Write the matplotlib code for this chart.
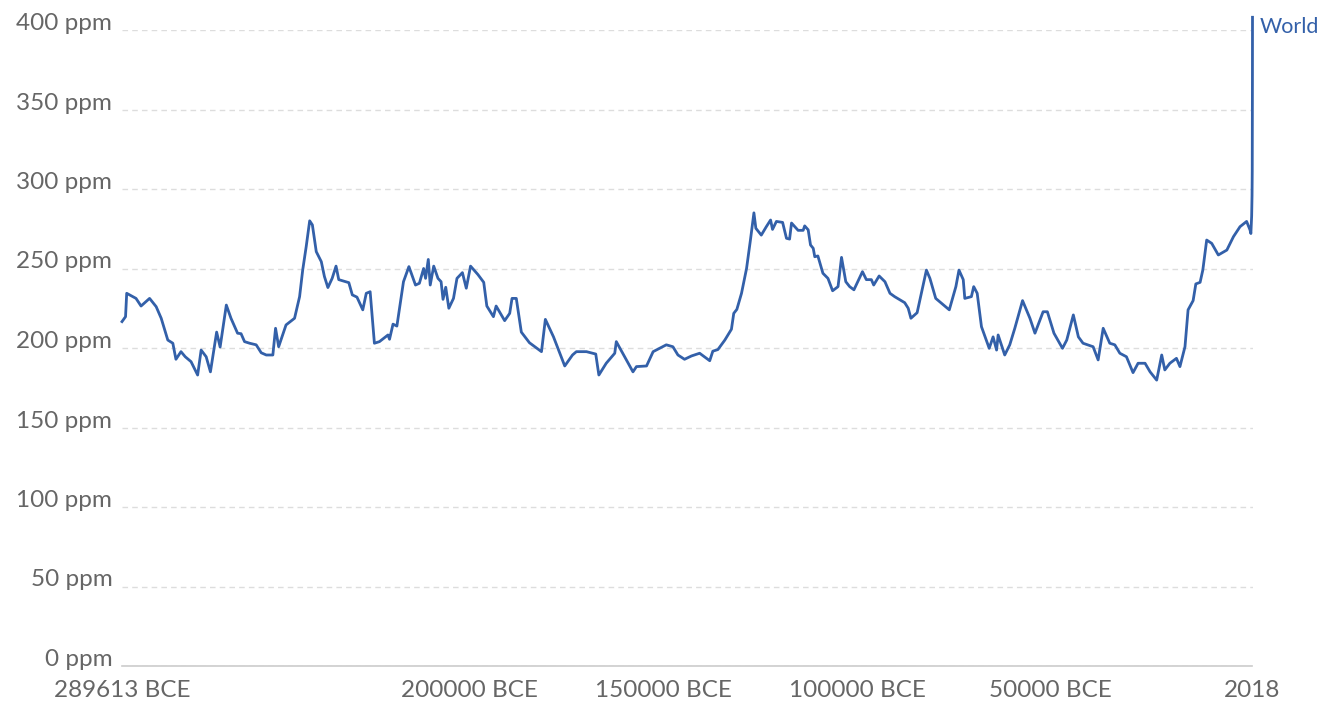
import matplotlib
matplotlib.use("Agg")
import matplotlib.pyplot as plt

plt.rcParams['font.family'] = ['Lato', 'DejaVu Sans']

# year (negative = BCE) and CO2 concentration
years = [
    -289613, -288700, -288400, -286000, -284700, -282500, -280800, -279500, -277800, -276500,
    -275700, -274400, -273300, -271800, -270100, -269200, -267900, -266800, -265200, -264300,
    -262700, -261500, -259800, -258900, -258000, -256700, -255000, -253700, -252400, -250700,
    -250000, -249200, -247300, -245100, -243800, -243000, -242100, -241200, -240500, -239500,
    -238200, -237400, -236500, -235400, -234400, -233700, -231100, -230200, -229000, -227500,
    -226600, -225600, -224500, -223200, -221000, -220600, -219700, -218700, -217000, -215600,
    -213900, -212900, -211800, -211300, -210600, -210100, -209200, -208100, -207300, -206800,
    -206100, -205300, -204100, -203200, -201800, -200800, -199700, -197800, -196300, -195500,
    -193800, -193100, -190900, -189600, -189000, -187900, -186600, -184500, -181400, -180400,
    -178300, -175400, -173400, -172400, -169800, -167400, -166600, -164700, -162500, -162100,
    -157800, -156900, -154300, -152600, -149200, -147500, -146200, -144500, -142700, -140600,
    -138000, -137200, -135900, -134100, -132400, -131800, -131000, -129800, -128500, -127500,
    -126600, -126100, -124700, -123400, -122300, -121800, -120800, -119200, -118200, -117400,
    -116900, -115200, -113900, -113500, -112600, -112000, -111300, -110900, -110100, -108800,
    -107500, -106300, -104900, -104000, -102900, -101900, -100800, -98600, -97600, -96300,
    -95700, -94300, -92800, -91500, -90300, -87700, -86800, -86100, -84500, -82100,
    -81200, -79700, -78200, -76200, -74500, -73700, -72600, -72200, -70500, -69900,
    -69000, -67900, -65900, -64900, -64000, -63600, -61900, -60600, -59300, -57300,
    -56300, -55400, -54100, -53300, -52000, -50900, -49200, -47000, -45900, -44200,
    -42900, -41700, -39100, -37800, -36500, -34800, -33500, -32200, -30500, -28800,
    -27500, -25700, -24400, -22700, -21400, -20600, -19300, -17600, -16700, -15400,
    -14600, -13300, -12600, -11500, -10800, -9800, -8500, -6800, -4600, -2900,
    -1200, 500, 1370, 1600, 1800, 1900, 1950, 1980, 2000, 2018,
]
co2 = [
    216.6, 219.7, 234.4, 231.2, 226.4, 231.2, 226.0, 218.7, 205.0, 203.0,
    192.9, 197.7, 194.5, 191.4, 183.0, 198.7, 194.5, 185.0, 210.0, 200.6,
    227.0, 218.7, 209.3, 209.0, 204.0, 203.0, 202.0, 197.0, 195.6, 195.6,
    212.4, 200.8, 214.5, 218.7, 232.3, 249.0, 263.7, 280.0, 277.4, 260.6,
    254.3, 245.0, 238.0, 243.8, 251.5, 243.0, 241.1, 233.4, 232.0, 224.0,
    234.4, 235.4, 203.0, 204.0, 208.2, 205.5, 215.0, 213.8, 241.7, 251.2,
    239.6, 240.7, 250.0, 243.8, 255.7, 239.6, 251.5, 243.8, 241.7, 230.6,
    238.2, 225.0, 231.2, 243.8, 247.4, 237.6, 251.5, 246.2, 241.3, 226.4,
    219.7, 226.4, 217.2, 221.8, 231.2, 231.2, 210.0, 203.3, 197.7, 218.0,
    207.0, 188.7, 195.6, 197.7, 197.7, 196.2, 183.0, 190.4, 196.7, 204.0,
    185.0, 188.3, 188.7, 197.7, 202.0, 200.8, 195.6, 192.9, 195.0, 196.7,
    192.0, 198.0, 199.0, 205.0, 211.8, 221.8, 224.3, 234.4, 250.0, 267.9,
    285.0, 275.3, 271.0, 276.3, 280.5, 274.6, 279.6, 279.0, 269.0, 268.5,
    278.6, 274.0, 274.0, 276.8, 274.3, 264.8, 262.7, 257.4, 257.9, 247.0,
    243.8, 236.0, 238.6, 257.0, 241.7, 238.6, 236.6, 248.0, 243.0, 243.0,
    239.6, 245.3, 241.7, 234.4, 232.3, 228.5, 225.0, 218.7, 222.2, 249.0,
    243.8, 231.2, 228.1, 224.0, 238.6, 249.0, 243.0, 231.2, 232.3, 238.6,
    234.4, 213.4, 199.8, 207.0, 198.7, 208.2, 195.6, 202.0, 212.4, 229.8,
    224.0, 218.7, 209.3, 214.5, 222.8, 222.8, 209.3, 199.8, 205.0, 220.8,
    207.0, 203.0, 200.8, 192.5, 212.4, 203.0, 202.0, 196.7, 194.5, 184.5,
    190.4, 190.4, 185.0, 179.8, 195.6, 186.2, 190.4, 193.5, 188.3, 200.8,
    224.0, 229.8, 240.3, 241.3, 249.0, 267.9, 265.8, 258.5, 261.6, 270.0,
    276.3, 279.6, 274.3, 272.0, 283.0, 296.0, 311.0, 339.0, 369.0, 408.0,
]

y_ticks = [0, 50, 100, 150, 200, 250, 300, 350, 400]
x_ticks = [-289613, -200000, -150000, -100000, -50000, 2018]
x_labels = ["289613 BCE", "200000 BCE", "150000 BCE", "100000 BCE", "50000 BCE", "2018"]

blue = '#3360a9'
grey = '#666666'

fig = plt.figure(figsize=(13.22, 7.05), dpi=100)
ax = fig.add_axes([122 / 1322, 1 - 666 / 705, (1252.5 - 122) / 1322, 636 / 705])

ax.plot(years, co2, color=blue, lw=2.0, clip_on=False, zorder=3)

ax.set_xlim(years[0], years[-1])
ax.set_ylim(0, 400)

ax.set_yticks(y_ticks)
ax.set_yticklabels([f"{v} ppm" for v in y_ticks])
ax.set_xticks(x_ticks)
ax.set_xticklabels(x_labels)
ax.tick_params(axis='y', length=0, pad=7, labelsize=17.5, labelcolor=grey)
ax.tick_params(axis='x', length=0, pad=10, labelsize=17.5, labelcolor=grey)
for lbl in ax.get_yticklabels():
    lbl.set_verticalalignment('baseline')

ax.yaxis.grid(True, color='#dddddd', lw=1, linestyle=(0, (4, 3)))
ax.xaxis.grid(False)
ax.set_axisbelow(True)
for side in ['top', 'right', 'left']:
    ax.spines[side].set_visible(False)
ax.spines['bottom'].set_color('#cccccc')
ax.spines['bottom'].set_linewidth(1.2)

ax.annotate('World', xy=(years[-1], co2[-1]), xytext=(5, -7), textcoords='offset points',
            color=blue, fontsize=15.5, va='center', ha='left', annotation_clip=False)

fig.savefig('out.png', dpi=100)
